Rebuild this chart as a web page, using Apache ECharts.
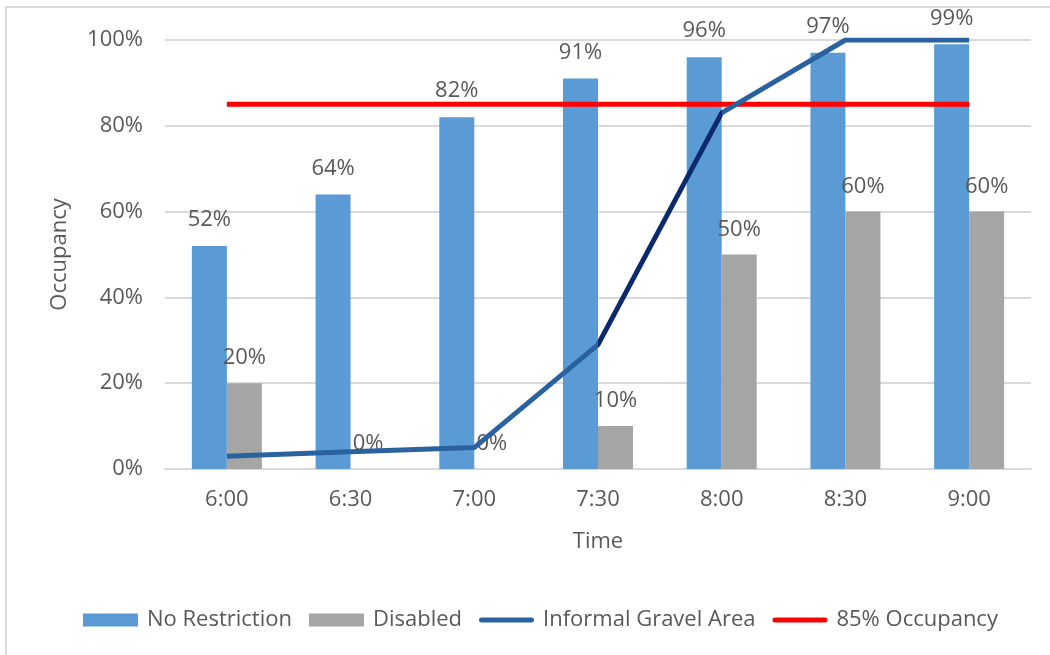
<!DOCTYPE html>
<html>
<head>
<meta charset="utf-8">
<script src="https://cdn.jsdelivr.net/npm/echarts@6/dist/echarts.min.js"></script>
<style>
html,body{margin:0;padding:0;background:#fff;}
#chart{width:1050px;height:655px;}
</style>
</head>
<body>
<div id="chart"></div>
<script>
const categories = ['6:00','6:30','7:00','7:30','8:00','8:30','9:00'];
const noRestriction = [52, 64, 82, 91, 96, 97, 99];
const disabled = [20, 0, 0, 10, 50, 60, 60];
const informalGravel = [3, 4, 5, 29, 83, 100, 100];
const occupancy85 = [85, 85, 85, 85, 85, 85, 85];
const yTicks = [0, 20, 40, 60, 80, 100];

const FONT = '"Open Sans", sans-serif';
const TXT = '#595959';
const LINE_ICON = 'path://M2.5,0 L52.5,0 A2.5,2.5 0 0 1 52.5,5 L2.5,5 A2.5,2.5 0 0 1 2.5,0 Z';

const chart = echarts.init(document.getElementById('chart'));
chart.setOption({
  backgroundColor: '#ffffff',
  animation: false,
  textStyle: { fontFamily: FONT },
  graphic: [{
    type: 'rect', silent: true, z: -10,
    shape: { x: 6, y: 7, width: 1200, height: 800 },
    style: { fill: 'none', stroke: '#d9d9d9', lineWidth: 2 }
  }],
  grid: { left: 165, right: 19, top: 40, bottom: 186, containLabel: false },
  legend: {
    left: 78, top: 604,
    itemWidth: 55, itemHeight: 13, itemGap: 17,
    textStyle: { fontFamily: FONT, fontSize: 22, color: TXT, padding: [0, 0, 0, 4] },
    data: [
      { name: 'No Restriction', icon: 'rect' },
      { name: 'Disabled', icon: 'rect' },
      { name: 'Informal Gravel Area', icon: LINE_ICON, itemStyle: { color: '#2A62A0' } },
      { name: '85% Occupancy', icon: LINE_ICON, itemStyle: { color: '#FF0000' } }
    ]
  },
  visualMap: {
    type: 'piecewise', show: false, dimension: 0, seriesIndex: 2,
    pieces: [{ gte: 3, lte: 4, color: '#0B2A6E' }],
    outOfRange: { color: '#2A62A0' }
  },
  xAxis: {
    type: 'category',
    data: categories,
    name: 'Time',
    nameLocation: 'middle',
    nameGap: 62,
    nameTextStyle: { fontFamily: FONT, fontSize: 22, color: TXT },
    axisLine: { show: true, lineStyle: { color: '#d9d9d9', width: 2 } },
    axisTick: { show: false },
    axisLabel: { fontFamily: FONT, fontSize: 22, color: TXT, margin: 20 }
  },
  yAxis: {
    type: 'value',
    min: yTicks[0], max: yTicks[yTicks.length - 1], interval: 20,
    name: 'Occupancy',
    nameLocation: 'middle',
    nameGap: 94,
    nameTextStyle: { fontFamily: FONT, fontSize: 22, color: TXT },
    axisLine: { show: false },
    axisTick: { show: false },
    axisLabel: { fontFamily: FONT, fontSize: 22, color: TXT, margin: 22, formatter: '{value}%' },
    splitLine: { lineStyle: { color: '#d9d9d9', width: 2 } }
  },
  series: [
    {
      name: 'No Restriction', type: 'bar', data: noRestriction,
      barWidth: 35, barGap: '0%',
      itemStyle: { color: '#5B9BD5' },
      label: { show: true, position: 'top', distance: 15, formatter: '{c}%',
        fontFamily: FONT, fontSize: 22, color: TXT }
    },
    {
      name: 'Disabled', type: 'bar', data: disabled,
      barWidth: 35, barGap: '0%',
      itemStyle: { color: '#A5A5A5' },
      label: { show: true, position: 'top', distance: 14, formatter: '{c}%',
        fontFamily: FONT, fontSize: 22, color: TXT }
    },
    {
      name: 'Informal Gravel Area', type: 'line', data: informalGravel,
      symbol: 'none', z: 5,
      itemStyle: { color: '#2A62A0' },
      lineStyle: { width: 5 }
    },
    {
      name: '85% Occupancy', type: 'line', data: occupancy85,
      symbol: 'none', z: 4,
      itemStyle: { color: '#FF0000' },
      lineStyle: { color: '#FF0000', width: 5 }
    }
  ]
});
</script>
</body>
</html>
